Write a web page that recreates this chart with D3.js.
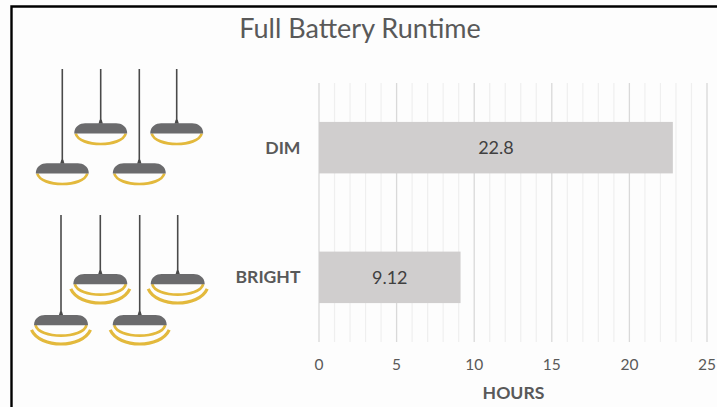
<!DOCTYPE html>
<html><head><meta charset="utf-8">
<script src="https://cdn.jsdelivr.net/npm/d3@7"></script>
<style>
html,body{margin:0;padding:0;background:#fff}
svg{display:block}
text{font-family:Lato,"Open Sans",sans-serif}
</style></head><body>
<svg id="c" width="717" height="407"></svg>
<script>
const categories = ["DIM", "BRIGHT"];
const hours = [22.8, 9.12];
const labels = ["22.8", "9.12"];
const xMajorTicks = [0, 5, 10, 15, 20, 25];
const xMinorTicks = d3.range(0, 25, 1).filter(d => d % 5 !== 0);
const title = "Full Battery Runtime";
const xTitle = "HOURS";

const svg = d3.select("#c");
svg.append("rect").attr("width",717).attr("height",407).attr("fill","#fdfdfd");
svg.append("path").attr("d","M11.5,407V6.5H717").attr("fill","none").attr("stroke","#000").attr("stroke-width",2.4);

const x = d3.scaleLinear().domain([0,25]).range([319,707]);
const y = d3.scaleBand().domain(categories).range([83,342]).paddingInner(0.603).paddingOuter(0.3);

const g = svg.append("g");
g.selectAll("line.minor").data(xMinorTicks).join("line").attr("class","minor")
  .attr("x1",x).attr("x2",x).attr("y1",83).attr("y2",342).attr("stroke","#efefef").attr("stroke-width",1.2);
g.selectAll("line.major").data(xMajorTicks).join("line").attr("class","major")
  .attr("x1",x).attr("x2",x).attr("y1",83).attr("y2",342).attr("stroke","#d9d9d9").attr("stroke-width",1.3);

g.selectAll("rect.bar").data(hours).join("rect").attr("class","bar")
  .attr("x",x(0)).attr("y",(d,i)=>y(categories[i]))
  .attr("width",d=>x(d)-x(0)).attr("height",y.bandwidth()).attr("fill","#d0cece");
g.selectAll("text.val").data(hours).join("text").attr("class","val")
  .attr("x",d=>(x(d)+x(0))/2).attr("y",(d,i)=>y(categories[i])+y.bandwidth()/2+6.5)
  .attr("text-anchor","middle").attr("font-size",18).attr("fill","#404040")
  .text((d,i)=>labels[i]);
g.selectAll("text.cat").data(categories).join("text").attr("class","cat")
  .attr("x",300.5).attr("y",d=>y(d)+y.bandwidth()/2+6)
  .attr("text-anchor","end").attr("font-size",17.6).attr("font-weight",700).attr("fill","#595959")
  .text(d=>d);
g.selectAll("text.tick").data(xMajorTicks).join("text").attr("class","tick")
  .attr("x",x).attr("y",370).attr("text-anchor","middle").attr("font-size",15.5).attr("fill","#595959")
  .text(d=>d);
svg.append("text").attr("x",513.5).attr("y",399).attr("text-anchor","middle")
  .attr("font-size",17.6).attr("font-weight",700).attr("fill","#595959").text(xTitle);
svg.append("text").attr("x",360).attr("y",38).attr("text-anchor","middle")
  .attr("font-size",27).attr("fill","#595959").text(title);

// Pendant lamp pictograms: [cord x, cord top, shade top, half width, rings]
const lamps = [
  [62.3,69,163.3,26.5,1],[100.7,69,123.3,26.5,1],[139.3,69,163.3,26.5,1],[176.7,69,123.3,26.5,1],
  [61,215,315,27,2],[100.3,215,274,27,2],[139.7,215,315,27,2],[177.7,215,274,27,2]
];
const lampG = svg.append("g");
lamps.forEach(([cx,top,sy,hw,rings])=>{
  const l = lampG.append("g");
  l.append("line").attr("x1",cx).attr("x2",cx).attr("y1",top).attr("y2",sy-1)
    .attr("stroke","#4a4a4a").attr("stroke-width",1.6);
  l.append("path").attr("d",`M${cx-2.2},${sy+.5}L${cx-1},${sy-3.5}H${cx+1}L${cx+2.2},${sy+.5}Z`).attr("fill","#4a4a4a");
  const b = sy+10.2;
  l.append("path").attr("d",`M${cx-hw+1.5},${b}C${cx-hw+5},${b+14} ${cx+hw-5},${b+14} ${cx+hw-1.5},${b}`)
    .attr("fill","none").attr("stroke","#e3b93c").attr("stroke-width",2.7);
  if(rings===2){
    l.append("path").attr("d",`M${cx-29.5},${b+4.6}C${cx-21},${b+23.5} ${cx+21},${b+23.5} ${cx+29.5},${b+4.6}`)
      .attr("fill","none").attr("stroke","#e3b93c").attr("stroke-width",3.2);
  }
  l.append("path").attr("d",`M${cx-hw},${b}C${cx-hw},${sy+3} ${cx-hw+6},${sy} ${cx-hw+11},${sy}H${cx+hw-11}C${cx+hw-6},${sy} ${cx+hw},${sy+3} ${cx+hw},${b}Z`)
    .attr("fill","#6b6b6d");
});
</script>
</body></html>
